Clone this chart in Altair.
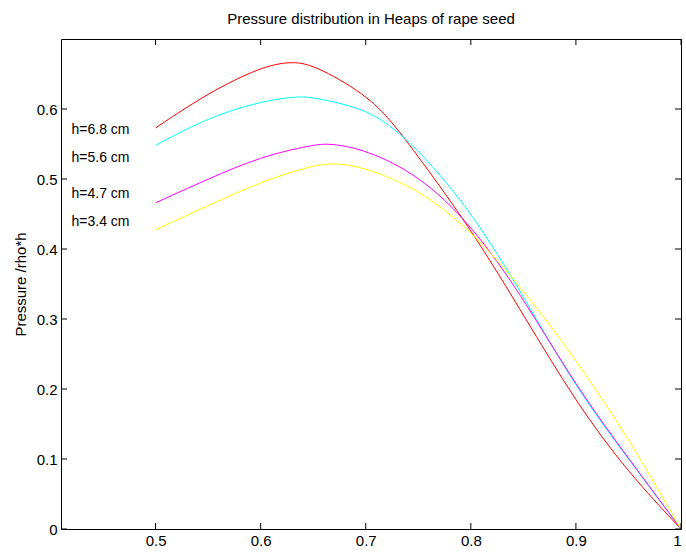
import altair as alt
import pandas as pd

# Series data
red_x = [0.50, 0.55, 0.60, 0.628, 0.65, 0.70, 0.725, 0.75, 0.80, 0.85, 0.90, 0.95, 1.00]
red_y = [0.573, 0.623, 0.660, 0.668, 0.664, 0.621, 0.582, 0.532, 0.429, 0.306, 0.181, 0.080, 0.0]

cyan_x = [0.50, 0.55, 0.60, 0.634, 0.65, 0.70, 0.725, 0.75, 0.80, 0.85, 0.90, 0.95, 1.00]
cyan_y = [0.548, 0.588, 0.611, 0.618, 0.617, 0.600, 0.574, 0.542, 0.455, 0.333, 0.201, 0.100, 0.0]

magenta_x = [0.50, 0.55, 0.60, 0.65, 0.666, 0.70, 0.75, 0.80, 0.85, 0.90, 0.95, 1.00]
magenta_y = [0.466, 0.500, 0.532, 0.549, 0.551, 0.542, 0.506, 0.436, 0.330, 0.204, 0.101, 0.0]

yellow_x = [0.50, 0.55, 0.60, 0.65, 0.672, 0.70, 0.75, 0.80, 0.85, 0.90, 0.95, 1.00]
yellow_y = [0.4276, 0.462, 0.496, 0.520, 0.523, 0.516, 0.486, 0.427, 0.342, 0.242, 0.130, 0.0]

series_names = ["h=6.8 cm", "h=5.6 cm", "h=4.7 cm", "h=3.4 cm"]
series_colors = ["#ff0000", "#00ffff", "#ff00ff", "#ffff00"]

label_x = [0.42, 0.42, 0.42, 0.42]
label_y = [0.570, 0.530, 0.479, 0.438]

x_ticks = [0.5, 0.6, 0.7, 0.8, 0.9, 1.0]
y_ticks = [0.0, 0.1, 0.2, 0.3, 0.4, 0.5, 0.6]

title_text = "Pressure distribution in Heaps of rape seed"
y_title = "Pressure /rho*h"

FONT = "Liberation Sans"
FS = 15
W, H = 620, 490

rows = []
for name, xs, ys in zip(series_names, [red_x, cyan_x, magenta_x, yellow_x],
                        [red_y, cyan_y, magenta_y, yellow_y]):
    for i, (a, b) in enumerate(zip(xs, ys)):
        rows.append({"series": name, "x": a, "y": b, "order": i})
df = pd.DataFrame(rows)
labels_df = pd.DataFrame({"series": series_names, "x": label_x, "y": label_y})
xt_df = pd.DataFrame({"x": x_ticks})
yt_df = pd.DataFrame({"y": y_ticks})

xscale = alt.Scale(domain=[0.41, 1.0], nice=False, zero=False)
yscale = alt.Scale(domain=[0, 0.7], nice=False, zero=False)

xaxis = alt.Axis(values=x_ticks, format="~g", title=None, labelPadding=4,
                 labelFontSize=FS, labelFont=FONT, labelColor="black",
                 grid=False, ticks=False, domain=False)
yaxis = alt.Axis(values=y_ticks, format="~g", title=y_title, labelPadding=4,
                 labelFontSize=FS, labelFont=FONT, labelColor="black",
                 titleFontSize=FS, titleFontWeight="normal",
                 titleFont=FONT, titleColor="black", titleAngle=270,
                 titleX=-33, titleY=H / 2, titleAlign="center",
                 titleBaseline="bottom", grid=False, ticks=False, domain=False)

X = alt.X("x:Q", scale=xscale, axis=xaxis)
Y = alt.Y("y:Q", scale=yscale, axis=yaxis)

lines = alt.Chart(df).mark_line(strokeWidth=1, interpolate="basis").encode(
    x=X,
    y=Y,
    color=alt.Color("series:N", scale=alt.Scale(domain=series_names, range=series_colors), legend=None),
    order="order:Q",
    detail="series:N",
)

texts = alt.Chart(labels_df).mark_text(align="left", baseline="middle", font=FONT,
                                       fontSize=14, color="black").encode(
    x=X, y=Y, text="series:N",
)

tick_len = 6
xt_bottom = alt.Chart(xt_df).mark_rule(color="black", strokeWidth=1).encode(
    x=X, y=alt.value(H), y2=alt.value(H - tick_len))
xt_top = alt.Chart(xt_df).mark_rule(color="black", strokeWidth=1).encode(
    x=X, y=alt.value(0), y2=alt.value(tick_len))
yt_left = alt.Chart(yt_df).mark_rule(color="black", strokeWidth=1).encode(
    y=Y, x=alt.value(0), x2=alt.value(tick_len))
yt_right = alt.Chart(yt_df).mark_rule(color="black", strokeWidth=1).encode(
    y=Y, x=alt.value(W), x2=alt.value(W - tick_len))

chart = alt.layer(lines, texts, xt_bottom, xt_top, yt_left, yt_right).properties(
    width=W, height=H,
    background="white",
    title=alt.TitleParams(title_text, font=FONT, fontSize=FS, fontWeight="normal",
                          color="black", anchor="middle", offset=12),
    autosize=alt.AutoSizeParams(type="none"),
    padding={"left": 61, "top": 39, "right": 5, "bottom": 23},
).configure_axis(
    grid=False, ticks=False, domain=False,
).configure_view(
    stroke="black", strokeWidth=1,
)

chart.save("out.html", embed_options={"renderer": "svg", "actions": False})
